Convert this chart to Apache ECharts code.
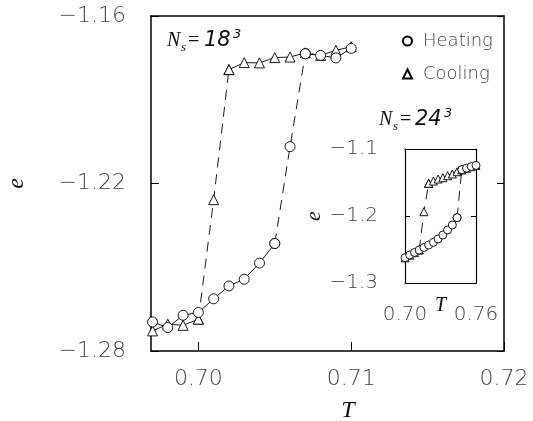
<!DOCTYPE html>
<html><head><meta charset="utf-8">
<script src="https://cdn.jsdelivr.net/npm/echarts@6/dist/echarts.min.js"></script>
<style>html,body{margin:0;padding:0;background:#fff}#c{width:533px;height:421px}</style>
</head><body><div id="c"></div>
<script>
// ---- data ----
const mainT = [0.697,0.698,0.699,0.700,0.701,0.702,0.703,0.704,0.705,0.706,0.707,0.708,0.709,0.710];
const mainHeating = [-1.2696,-1.2716,-1.2672,-1.2662,-1.2613,-1.2567,-1.2543,-1.2485,-1.2415,-1.2068,-1.1735,-1.1741,-1.1750,-1.1716];
const mainCooling = [-1.2728,-1.2704,-1.2708,-1.2686,-1.2258,-1.1792,-1.1767,-1.1768,-1.1749,-1.1747,-1.1732,-1.1741,-1.1723,-1.1710];
const mainXTicks = [0.70,0.71,0.72];
const mainYTicks = [-1.28,-1.22,-1.16];

const insetT = [0.700,0.704,0.708,0.712,0.716,0.720,0.724,0.728,0.732,0.736,0.740,0.744,0.748,0.752,0.756,0.760];
const insetHeating = [-1.2622,-1.2582,-1.2545,-1.2507,-1.2470,-1.2433,-1.2393,-1.2343,-1.2284,-1.2209,-1.2134,-1.2025,-1.1310,-1.1285,-1.1262,-1.1245];
const insetCooling = [-1.2625,-1.2585,-1.2547,-1.2505,-1.1936,-1.1512,-1.1478,-1.1448,-1.1428,-1.1399,-1.1373,-1.1339,-1.1313,-1.1288,-1.1264,-1.1246];
const insetXTicks = [0.70,0.76];
const insetYTicks = [-1.3,-1.2,-1.1];
const seriesNames = ['Heating','Cooling'];

// ---- chart ----
const chart = echarts.init(document.getElementById('c'), null, {renderer:'canvas'});
const LBL = {fontFamily:'DejaVu Sans', fontWeight:200, color:'#444'};
const AX = {lineStyle:{color:'#000', width:1.5}};
const minus = (v, d) => '\u2212' + Math.abs(v).toFixed(d);

function seg(name, T, E, a, b, dashed, symbol, size, xi, yi) {
  const data = [];
  for (let i = a; i <= b; i++) data.push([T[i], E[i]]);
  return {
    name, type:'line', xAxisIndex:xi, yAxisIndex:yi, data,
    symbol, symbolSize:size, showSymbol:true, clip:false, animation:false,
    lineStyle:{color:'#000', width:0.9, type: dashed ? [10,7] : 'solid'},
    itemStyle:{color:'#fff', borderColor:'#000', borderWidth:0.9}
  };
}

const series = [
  seg(seriesNames[1], mainT, mainCooling, 0, 3, false, 'triangle', 10, 0, 0),
  seg(seriesNames[1], mainT, mainCooling, 3, 5, true, 'triangle', 10, 0, 0),
  seg(seriesNames[1], mainT, mainCooling, 5, 13, false, 'triangle', 10, 0, 0),
  seg(seriesNames[0], mainT, mainHeating, 0, 8, false, 'circle', 10, 0, 0),
  seg(seriesNames[0], mainT, mainHeating, 8, 10, true, 'circle', 10, 0, 0),
  seg(seriesNames[0], mainT, mainHeating, 10, 13, false, 'circle', 10, 0, 0),
  seg(seriesNames[1], insetT, insetCooling, 0, 3, false, 'triangle', 8, 2, 2),
  seg(seriesNames[1], insetT, insetCooling, 3, 5, true, 'triangle', 8, 2, 2),
  seg(seriesNames[1], insetT, insetCooling, 5, 15, false, 'triangle', 8, 2, 2),
  seg(seriesNames[0], insetT, insetHeating, 0, 11, false, 'circle', 8, 2, 2),
  seg(seriesNames[0], insetT, insetHeating, 11, 12, true, 'circle', 8, 2, 2),
  seg(seriesNames[0], insetT, insetHeating, 12, 15, false, 'circle', 8, 2, 2)
];

function txt(x, y, s, font, align) {
  return {type:'text', x, y, silent:true,
    style:{text:s, font, fill:'#111', align: align || 'left', verticalAlign:'middle'}};
}
const SERIF_I = 'italic 20px "Liberation Serif"';
const SUB_I = 'italic 13px "Liberation Serif"';
const SANS_I = 'oblique 21px "DejaVu Sans"';
const SUP = 'oblique 13px "DejaVu Sans"';

chart.setOption({
  backgroundColor:'#fff',
  animation:false,
  grid:[
    {left:151, top:16, right:29, bottom:70, show:false, outerBoundsMode:'none', containLabel:false},
    {left:405, top:149, right:57, bottom:138, show:true, backgroundColor:'#fff', borderWidth:0, outerBoundsMode:'none', containLabel:false}
  ],
  legend:{
    data:[{name:seriesNames[0], icon:'circle'},{name:seriesNames[1], icon:'triangle'}],
    orient:'vertical', left:397, top:27, itemWidth:9, itemHeight:9, itemGap:15,
    selectedMode:false,
    textStyle:{fontFamily:'DejaVu Sans', fontWeight:200, fontSize:18, color:'#444', padding:[0,0,0,6]}
  },
  xAxis:[
    {gridIndex:0, type:'value', min:0.6969, max:0.72, position:'bottom',
     axisLine:AX, splitLine:{show:false},
     axisTick:{inside:true, length:9, customValues:mainXTicks, lineStyle:{color:'#000'}},
     axisLabel:{customValues:mainXTicks, formatter:v=>v.toFixed(2), margin:17, fontSize:22, ...LBL},
     name:'T', nameLocation:'middle', nameGap:48, nameMoveOverlap:false,
     nameTextStyle:{fontFamily:'Liberation Serif', fontStyle:'italic', fontSize:24, color:'#111', padding:[0,0,0,41]}},
    {gridIndex:0, type:'value', min:0.6969, max:0.72, position:'top',
     axisLine:AX, axisTick:{show:false}, axisLabel:{show:false}, splitLine:{show:false}},
    {gridIndex:1, type:'value', min:0.70, max:0.76, position:'bottom',
     axisLine:{lineStyle:{color:'#000', width:1.2}}, splitLine:{show:false},
     axisTick:{show:false},
     axisLabel:{customValues:insetXTicks, formatter:v=>v.toFixed(2), margin:22, fontSize:20, ...LBL},
     name:'T', nameLocation:'middle', nameGap:13, nameMoveOverlap:false,
     nameTextStyle:{fontFamily:'Liberation Serif', fontStyle:'italic', fontSize:20, color:'#111'}},
    {gridIndex:1, type:'value', min:0.70, max:0.76, position:'top',
     axisLine:{lineStyle:{color:'#000', width:1.2}}, axisTick:{show:false}, axisLabel:{show:false}, splitLine:{show:false}}
  ],
  yAxis:[
    {gridIndex:0, type:'value', min:-1.28, max:-1.16, position:'left',
     axisLine:AX, splitLine:{show:false},
     axisTick:{inside:true, length:8, customValues:mainYTicks, lineStyle:{color:'#000'}},
     axisLabel:{customValues:mainYTicks, formatter:v=>minus(v,2), margin:25, fontSize:22, ...LBL},
     name:'e', nameLocation:'middle', nameGap:122, nameRotate:90, nameMoveOverlap:false,
     nameTextStyle:{fontFamily:'Liberation Serif', fontStyle:'italic', fontSize:24, color:'#111'}},
    {gridIndex:0, type:'value', min:-1.28, max:-1.16, position:'right',
     axisLine:AX, splitLine:{show:false},
     axisTick:{inside:true, length:7, customValues:mainYTicks, lineStyle:{color:'#000'}},
     axisLabel:{show:false}},
    {gridIndex:1, type:'value', min:-1.3, max:-1.1, position:'left',
     axisLine:{lineStyle:{color:'#000', width:1.2}}, splitLine:{show:false},
     axisTick:{inside:true, length:5, customValues:insetYTicks, lineStyle:{color:'#000'}},
     axisLabel:{customValues:insetYTicks, formatter:v=>minus(v,1), margin:27, fontSize:20, ...LBL},
     name:'e', nameLocation:'middle', nameGap:80, nameRotate:90, nameMoveOverlap:false,
     nameTextStyle:{fontFamily:'Liberation Serif', fontStyle:'italic', fontSize:22, color:'#111'}},
    {gridIndex:1, type:'value', min:-1.3, max:-1.1, position:'right',
     axisLine:{lineStyle:{color:'#000', width:1.2}}, splitLine:{show:false},
     axisTick:{inside:true, length:5, customValues:insetYTicks, lineStyle:{color:'#000'}},
     axisLabel:{show:false}}
  ],
  graphic:[
    txt(167, 41, 'N', SERIF_I), txt(181, 48, 's', SUB_I), txt(188, 41, '=', '20px "Liberation Serif"'),
    txt(204, 41, '18', SANS_I), txt(233, 35, '3', SUP),
    txt(379, 120, 'N', SERIF_I), txt(393, 127, 's', SUB_I), txt(400, 120, '=', '20px "Liberation Serif"'),
    txt(415, 120, '24', SANS_I), txt(444, 114, '3', SUP)
  ],
  series
});
</script></body></html>
